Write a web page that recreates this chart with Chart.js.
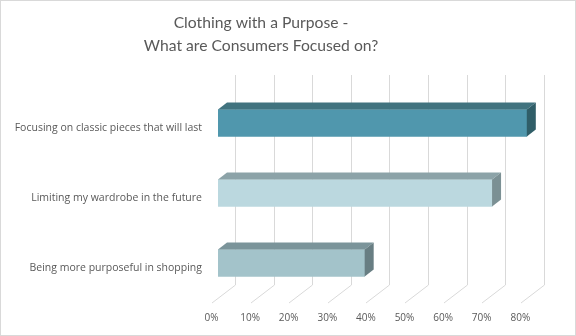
<!DOCTYPE html>
<html>
<head>
<meta charset="utf-8">
<script src="https://cdn.jsdelivr.net/npm/chart.js@4/dist/chart.umd.min.js"></script>
<style>
  html, body { margin:0; padding:0; background:#fff; }
  canvas { display:block; }
</style>
</head>
<body>
<canvas id="focusChart" width="576" height="336"></canvas>
<script>
// ── Data ─────────────────────────────────────────────────
const TITLE_LINES = ["Clothing with a Purpose -", "What are Consumers Focused on?"];
const CATEGORIES  = [
  "Focusing on classic pieces that will last",
  "Limiting my wardrobe in the future",
  "Being more purposeful in shopping"
];
const SHARES      = [80, 71, 38];                       // % of consumers
const X_TICKS     = [0, 10, 20, 30, 40, 50, 60, 70, 80];
const X_LABELS    = ["0%","10%","20%","30%","40%","50%","60%","70%","80%"];

// ── Look ─────────────────────────────────────────────────
const FRONT = ["#5097ad", "#bbd8df", "#a3c3ca"];
const TOP   = ["#41737f", "#8ca3a8", "#7b949a"];
const SIDE  = ["#305e68", "#7b9094", "#687e83"];
const DEPTH = { dx: 9, dy: 7 };          // bar extrusion
const WALL  = { dx: 17, top: 75, floor: 285, front: 303, lead: 6.5 };
const GRID  = "#d9d9d9";
const INK   = "#595959";

// ── 3D pseudo-perspective: walls, bar faces, labels ───────
const bar3d = {
  id: "bar3d",
  beforeDatasetsDraw(chart) {
    const { ctx } = chart;
    const xs = chart.scales.x;
    ctx.save();
    ctx.strokeStyle = GRID;
    ctx.lineWidth = 1;
    X_TICKS.forEach(v => {
      const px = Math.round(xs.getPixelForValue(v)) + 0.5;
      ctx.beginPath();
      ctx.moveTo(px + WALL.dx, WALL.top);
      ctx.lineTo(px + WALL.dx, WALL.floor);
      ctx.lineTo(px - WALL.lead, WALL.front);
      ctx.stroke();
    });
    ctx.restore();
  },
  afterDatasetsDraw(chart) {
    const { ctx } = chart;
    const meta = chart.getDatasetMeta(0);
    ctx.save();
    meta.data.forEach((el, i) => {
      const top = el.y - el.height / 2, bot = el.y + el.height / 2;
      const { dx, dy } = DEPTH;
      ctx.fillStyle = TOP[i];
      ctx.beginPath();
      ctx.moveTo(el.base, top);
      ctx.lineTo(el.base + dx, top - dy);
      ctx.lineTo(el.x + dx, top - dy);
      ctx.lineTo(el.x, top);
      ctx.closePath();
      ctx.fill();
      ctx.fillStyle = SIDE[i];
      ctx.beginPath();
      ctx.moveTo(el.x, top);
      ctx.lineTo(el.x + dx, top - dy);
      ctx.lineTo(el.x + dx, bot - dy);
      ctx.lineTo(el.x, bot);
      ctx.closePath();
      ctx.fill();

      ctx.fillStyle = INK;
      ctx.font = "10.5px 'Open Sans'";
      ctx.textAlign = "right";
      ctx.textBaseline = "middle";
      ctx.fillText(chart.data.labels[i], 202, el.y + 5.5);
    });

    const xs = chart.scales.x;
    ctx.textAlign = "center";
    ctx.font = "10px 'Open Sans'";
    X_TICKS.forEach((v, i) => {
      ctx.fillText(X_LABELS[i], xs.getPixelForValue(v) - WALL.lead, 318);
    });

    ctx.font = "15.7px Lato";
    TITLE_LINES.forEach((t, i) => ctx.fillText(t, 261, 23 + i * 23));

    ctx.strokeStyle = GRID;
    ctx.strokeRect(0.5, 0.5, chart.width - 1, chart.height - 1);
    ctx.restore();
  }
};

new Chart(document.getElementById("focusChart"), {
  type: "bar",
  data: {
    labels: CATEGORIES,
    datasets: [{ data: SHARES, backgroundColor: FRONT, barThickness: 27 }]
  },
  options: {
    indexAxis: "y",
    responsive: false,
    animation: false,
    layout: { padding: { left: 218, right: 10.6, top: 88, bottom: 38 } },
    scales: {
      x: { display: false, min: 0, max: 90, ticks: { stepSize: 10 } },
      y: { display: false }
    },
    plugins: { legend: { display: false }, tooltip: { enabled: false } }
  },
  plugins: [bar3d]
});
</script>
</body>
</html>
